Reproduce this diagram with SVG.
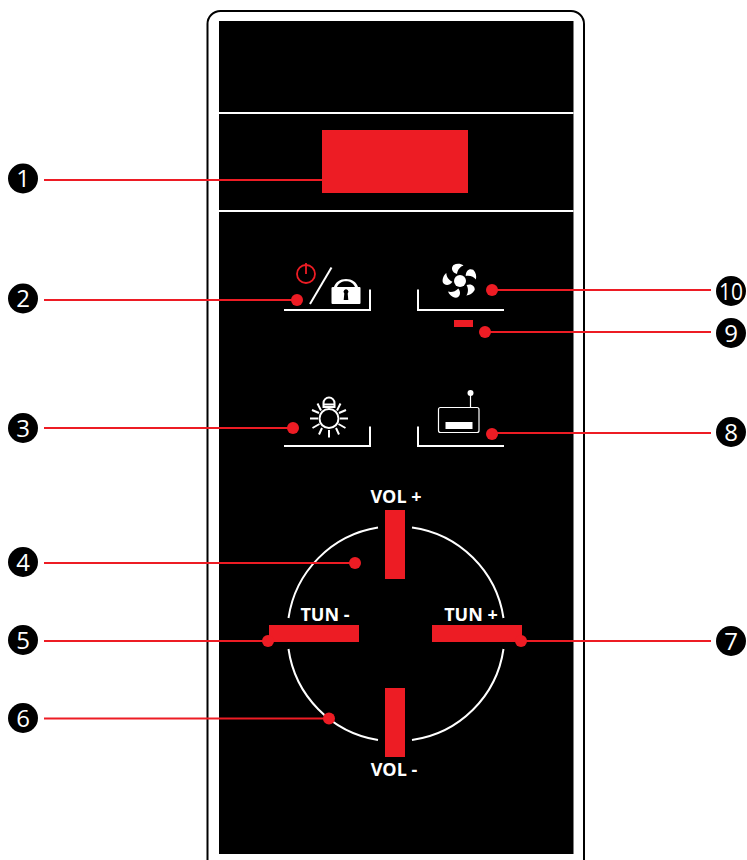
<svg xmlns="http://www.w3.org/2000/svg" width="747" height="860" viewBox="0 0 747 860">
<defs>
<style>
.w{fill:none;stroke:#fff;stroke-width:2}
.ws{fill:#fff}
.r{fill:#ed1c24}
.l{stroke:#ed1c24;stroke-width:2;fill:none}
.n{font-family:"Open Sans","Noto Sans",sans-serif;font-size:24px;fill:#fff;text-anchor:middle}
.t{font-family:"Open Sans","Noto Sans",sans-serif;font-size:18px;font-weight:700;fill:#fff;text-anchor:middle}
</style>
<path id="blade" d="M-3-7C-8-8.500-9.500-13-6.500-16C-3-17.800 1-17.300 3.500-15.500C.5-14.500-2.500-11.500-3-7Z" fill="#fff"/>
</defs>
<rect width="747" height="860" fill="#fff"/>
<g id="panel">
<rect x="207.500" y="11" width="376.500" height="870" rx="13" fill="#fff" stroke="#000" stroke-width="2"/>
<rect x="219" y="21" width="354.500" height="833" fill="#000"/>
<path class="w" d="M219 113H573.500M219 211H573.500"/>
</g>
<g id="display"><rect class="r" x="322" y="130" width="146" height="63"/></g>
<g id="power-lock">
<circle cx="306" cy="274" r="9" fill="none" stroke="#ed1c24" stroke-width="1.800"/>
<path d="M306 263V274" stroke="#ed1c24" stroke-width="1.800"/>
<path d="M310 304L331.500 267.500" stroke="#fff" stroke-width="2"/>
<path class="ws" d="M333 287H334C335.500 282 340 279 346 279S356.500 282 358 287H359.500Q360.500 287 360.500 288V303Q360.500 304 359.500 304H332.500Q331.500 304 331.500 303V288Q331.500 287 333 287ZM337 287H355C353.500 283 350 281.200 346 281.200S338.500 283 337 287Z" fill-rule="evenodd"/>
<path d="M344.300 293.500A2.400 2.400 0 1 1 347.700 293.500L348.300 300H343.700Z" fill="#000"/>
<path class="w" d="M284 310H370V289.500"/>
</g>
<g id="fan">
<circle class="ws" cx="460" cy="281" r="6"/>
<use href="#blade" transform="translate(460 281) rotate(0)"/>
<use href="#blade" transform="translate(460 281) rotate(72)"/>
<use href="#blade" transform="translate(460 281) rotate(144)"/>
<use href="#blade" transform="translate(460 281) rotate(216)"/>
<use href="#blade" transform="translate(460 281) rotate(288)"/>
<path class="w" d="M418 289.500V310H504"/>
</g>
<g id="indicator"><rect class="r" x="454" y="320" width="19" height="7"/></g>
<g id="bulb">
<circle cx="329" cy="418.500" r="9.500" fill="none" stroke="#fff" stroke-width="2"/>
<path class="w" d="M323.500 408V403A5.500 5.500 0 0 1 334.500 403V408M323.500 404.500H334.500M323.500 407H334.500"/>
<path class="w" d="M310 418.500H318M340 418.500H348M329 430V437.500M321 410.500L317.500 403.500M337 410.500L340.500 403.500M319 413L312 410M339 413L346 410M319.500 424L312.500 428M338.500 424L345.500 428M322 428L319 434.500M336 428L339 434.500"/>
<path class="w" d="M284 446H370V426.500"/>
</g>
<g id="radio">
<rect x="438.500" y="407.500" width="40.500" height="25" rx="2" fill="none" stroke="#fff" stroke-width="1.200"/>
<rect class="ws" x="445.500" y="422" width="27" height="7"/>
<path d="M470.500 395V407" stroke="#fff" stroke-width="1.200"/>
<circle class="ws" cx="470.500" cy="393" r="3"/>
<path class="w" d="M418 426.500V446H504"/>
</g>
<g id="dial">
<path class="w" d="M378 527.500A107.500 107.500 0 0 0 288.500 618M412 527.500A107.500 107.500 0 0 1 503.500 618M288.500 649A107.500 107.500 0 0 0 378 740M503.500 649A107.500 107.500 0 0 1 412 740"/>
<rect class="r" x="385" y="510" width="20" height="69"/>
<rect class="r" x="385" y="688" width="20" height="69"/>
<rect class="r" x="269" y="625" width="90" height="17"/>
<rect class="r" x="432" y="625" width="90" height="17"/>
<text class="t" x="396" y="503">VOL +</text>
<text class="t" x="394" y="776">VOL -</text>
<text class="t" x="325" y="621">TUN -</text>
<text class="t" x="471" y="621">TUN +</text>
</g>
<g id="connectors">
<path class="l" d="M44 180H322M44 300H297M44 428H293M44 563H355M44 641H268M44 718.500H329M711 290H492M711 332H485M711 433H492M711 641H521"/>
<g class="r">
<circle cx="297" cy="300" r="6"/><circle cx="293" cy="428" r="6"/><circle cx="355" cy="563" r="6"/><circle cx="268" cy="641" r="6"/><circle cx="329" cy="718.500" r="6"/><circle cx="492" cy="290" r="6"/><circle cx="485" cy="332" r="6"/><circle cx="492" cy="434" r="6"/><circle cx="521" cy="641" r="6"/>
</g>
</g>
<g id="n1"><circle cx="23" cy="178.500" r="15"/><text class="n" x="23" y="187">1</text></g>
<g id="n2"><circle cx="23" cy="298.500" r="15"/><text class="n" x="23" y="307">2</text></g>
<g id="n3"><circle cx="23" cy="428" r="15"/><text class="n" x="23" y="436.500">3</text></g>
<g id="n4"><circle cx="23" cy="562" r="15"/><text class="n" x="23" y="570.500">4</text></g>
<g id="n5"><circle cx="23" cy="640" r="15"/><text class="n" x="23" y="648.500">5</text></g>
<g id="n6"><circle cx="23" cy="718" r="15"/><text class="n" x="23" y="726.500">6</text></g>
<g id="n7"><circle cx="731" cy="641" r="15"/><text class="n" x="731" y="649.500">7</text></g>
<g id="n8"><circle cx="731" cy="432" r="15"/><text class="n" x="731" y="440.500">8</text></g>
<g id="n9"><circle cx="731" cy="333" r="15"/><text class="n" x="731" y="341.500">9</text></g>
<g id="n10"><circle cx="731" cy="291" r="15"/><text class="n" x="731" y="299.500" textLength="24" lengthAdjust="spacingAndGlyphs">10</text></g>
</svg>
